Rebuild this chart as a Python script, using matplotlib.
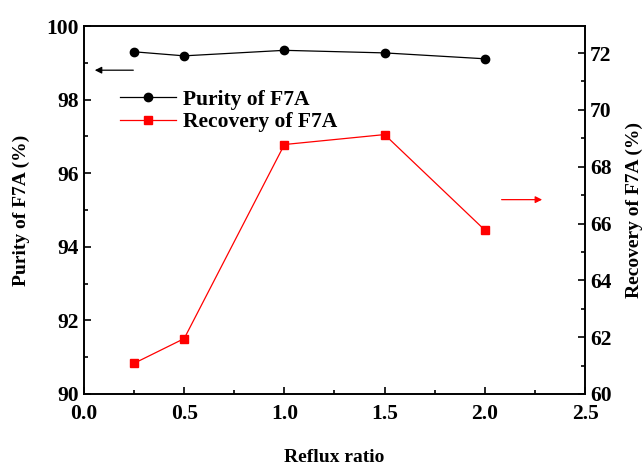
import matplotlib.pyplot as plt
from matplotlib.ticker import MultipleLocator

reflux = [0.25, 0.5, 1.0, 1.5, 2.0]
purity = [99.30, 99.19, 99.34, 99.27, 99.11]
recovery = [61.08, 61.95, 68.78, 69.13, 65.77]

plt.rcParams['font.family'] = ['Liberation Serif', 'DejaVu Serif']
plt.rcParams['font.weight'] = 'bold'

fig = plt.figure(figsize=(6.44, 4.65), dpi=100)
ax = fig.add_axes([0.1304, 0.1527, 0.7780, 0.7913])
ax2 = ax.twinx()

l1, = ax.plot(reflux, purity, color='black', lw=0.9, marker='o', ms=6,
              label='Purity of F7A')
l2, = ax2.plot(reflux, recovery, color='red', lw=0.9, marker='s', ms=6,
               label='Recovery of F7A')

ax.set_xlim(0, 2.5)
ax.set_ylim(90, 100)
ax2.set_ylim(60, 72.95)

ax.xaxis.set_major_locator(MultipleLocator(0.5))
ax.xaxis.set_minor_locator(MultipleLocator(0.25))
ax.yaxis.set_major_locator(MultipleLocator(2))
ax.yaxis.set_minor_locator(MultipleLocator(1))
ax2.yaxis.set_major_locator(MultipleLocator(2))
ax2.yaxis.set_minor_locator(MultipleLocator(1))

for a in (ax, ax2):
    a.tick_params(which='both', direction='in', labelsize=15.5, width=1.2)
    a.tick_params(which='major', length=5)
    a.tick_params(which='minor', length=3)
    for s in a.spines.values():
        s.set_linewidth(1.2)
ax.tick_params(axis='x', pad=7)

ax.set_xlabel('Reflux ratio', fontsize=14, fontweight='bold', labelpad=18)
ax.set_ylabel('Purity of F7A (%)', fontsize=14, fontweight='bold', labelpad=12)
ax2.set_ylabel('Recovery of F7A (%)', fontsize=14, fontweight='bold', labelpad=10)

# arrows pointing at the matching axis
ax.annotate('', xy=(0.04, 98.8), xytext=(0.26, 98.8),
            arrowprops=dict(arrowstyle='-|>', color='black', lw=0.9,
                            mutation_scale=10))
ax2.annotate('', xy=(2.30, 66.84), xytext=(2.07, 66.84),
             arrowprops=dict(arrowstyle='-|>', color='red', lw=0.9,
                             mutation_scale=10))

ax.legend(handles=[l1, l2], loc='upper left', bbox_to_anchor=(0.055, 0.85),
          frameon=False, fontsize=15.5, handlelength=2.6, handletextpad=0.3,
          labelspacing=0.1, borderaxespad=0)

fig.savefig('out.png', dpi=100)
